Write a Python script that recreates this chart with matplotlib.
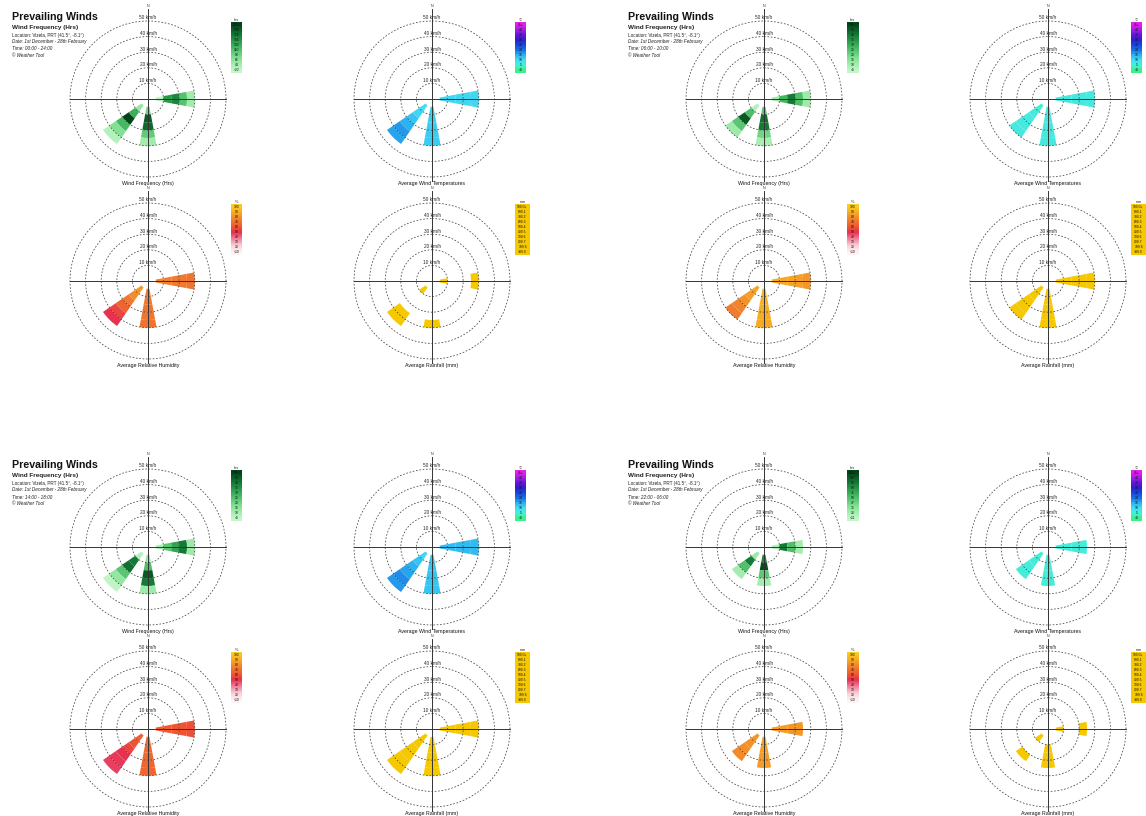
import numpy as np
import matplotlib.pyplot as plt
from matplotlib.colors import LinearSegmentedColormap, Normalize

plt.rcParams['font.family'] = ['Liberation Sans', 'DejaVu Sans']

W, H = 1146, 816
fig = plt.figure(figsize=(W / 100, H / 100), dpi=100)

# ---------------------------------------------------------------- data
sector_dirs = [90, 180, 225]            # E, S, SW (compass degrees)
speed_edges = [5, 10, 15, 20, 25, 30, 35]
ring_speeds = [10, 20, 30, 40, 50]
time_labels = ["00:00 - 24:00", "06:00 - 10:00", "14:00 - 18:00", "22:00 - 06:00"]

nan = np.nan
# rows: E, S, SW ; columns: speed bins 5-10 ... 30-35 km/h
freq_0024 = [[30, 150, 165, 110, 50, nan], [90, 200, 190, 100, 50, nan], [60, 130, 220, 120, 75, 35]]
freq_0610 = [[12, 28, 40, 26, 12, nan], [24, 42, 40, 20, 10, nan], [8, 26, 46, 24, 12, nan]]
freq_1418 = [[10, 24, 32, 40, 12, nan], [14, 26, 46, 40, 12, nan], [8, 40, 42, 24, 14, 6]]
freq_2206 = [[20, 95, 60, 25, nan, nan], [90, 115, 55, 25, nan, nan], [30, 95, 60, 25, nan, nan]]

temp_0024 = [[11, 11, 11, 11, 11, nan], [12, 12, 12, 12, 12, nan], [10, 11, 13, 15, 17, 16]]
temp_0610 = [[7, 7, 7, 7, 7, nan], [7, 7, 7, 7, 7, nan], [5, 7, 7, 7, 7, nan]]
temp_1418 = [[14, 14, 14, 14, 14, nan], [13, 13, 13, 13, 13, nan], [11, 13, 15, 16, 18, 17]]
temp_2206 = [[6, 6, 6, 6, nan, nan], [6, 6, 6, 6, nan, nan], [6, 6, 6, 6, nan, nan]]

humid_0024 = [[75, 74, 73, 72, 71, nan], [72, 72, 71, 71, 70, nan], [82, 78, 72, 64, 55, 50]]
humid_0610 = [[88, 87, 86, 84, 82, nan], [91, 90, 90, 89, 88, nan], [86, 84, 80, 76, 73, nan]]
humid_1418 = [[62, 61, 60, 59, 58, nan], [67, 66, 66, 65, 65, nan], [63, 59, 55, 50, 48, 47]]
humid_2206 = [[84, 83, 82, 82, nan, nan], [85, 84, 83, 83, nan, nan], [82, 80, 79, 78, nan, nan]]

rain_0024 = [[120, nan, nan, nan, 150, nan], [nan, nan, nan, nan, 180, nan], [90, nan, nan, nan, 160, 140]]
rain_0610 = [[60, 80, 90, 70, 50, nan], [70, 90, 90, 60, 40, nan], [40, 80, 90, 60, 40, nan]]
rain_1418 = [[60, 80, 90, 70, 50, nan], [70, 90, 90, 60, 40, nan], [40, 80, 90, 60, 40, 30]]
rain_2206 = [[60, nan, nan, 80, nan, nan], [nan, 90, 90, 90, nan, nan], [50, nan, nan, 70, nan, nan]]

freq_ticks = [["<22", "44", "66", "88", "110", "132", "154", "176", "198", "220+"],
              ["<5", "10", "15", "20", "25", "30", "35", "40", "45", "50+"],
              ["<5", "10", "15", "20", "25", "30", "35", "40", "45", "50+"],
              ["<11", "23", "35", "47", "59", "71", "83", "95", "107", "119+"]]
temp_ticks = ["<0", "5", "10", "15", "20", "25", "30", "35", "40", "45+"]
humid_ticks = ["<10", "20", "30", "40", "50", "60", "70", "80", "90", "100"]
rain_ticks = ["<99.9", "199.8", "299.7", "399.6", "499.5", "599.4", "699.3", "799.2", "899.1", "999.0+"]

# ---------------------------------------------------------------- styles
freq_cmap = LinearSegmentedColormap.from_list(
    "freq", ["#c4f7c8", "#86e496", "#46b862", "#17813a", "#02441a"])
temp_cmap = LinearSegmentedColormap.from_list(
    "temp", [(0.0, "#3cf08c"), (0.11, "#44f0d4"), (0.22, "#44e0f2"),
             (0.33, "#2cb4f0"), (0.44, "#1874e6"), (0.56, "#1a46d6"),
             (0.67, "#3020c8"), (0.78, "#6418d8"), (0.89, "#a41ee2"), (1.0, "#e020e8")])
humid_cmap = LinearSegmentedColormap.from_list(
    "humid", [(0.0, "#fff4f4"), (0.15, "#f8d0d8"), (0.3, "#f08098"),
              (0.44, "#e83050"), (0.56, "#f05830"), (0.69, "#f07830"),
              (0.83, "#f6a024"), (1.0, "#f8cc20")])
rain_cmap = LinearSegmentedColormap.from_list("rain", ["#f6c800", "#f6c800"])

RMAX = 60.0
PX_PER_KMH = 1.56
HALF = RMAX * PX_PER_KMH


def fx(x):
    return x / W


def fy(y):
    return 1 - y / H


def rose(cx, cy, values, cmap, vmin, vmax, title, unit, ticks, cbar_w=11):
    ax = fig.add_axes([fx(cx - HALF), fy(cy + HALF), 2 * HALF / W, 2 * HALF / H],
                      projection="polar")
    ax.set_theta_zero_location("N")
    ax.set_theta_direction(-1)
    ax.set_ylim(0, RMAX)
    ax.set_axis_off()

    norm = Normalize(vmin, vmax)
    width = np.deg2rad(21)
    vals = np.array(values, dtype=float)
    for i, d in enumerate(sector_dirs):
        for j in range(len(speed_edges) - 1):
            v = vals[i, j]
            if np.isnan(v):
                continue
            lo, hi = speed_edges[j], speed_edges[j + 1]
            ax.bar(np.deg2rad(d), hi - lo, width=width, bottom=lo,
                   color=cmap(norm(v)), linewidth=0, zorder=2)

    th = np.linspace(0, 2 * np.pi, 361)
    for r in ring_speeds:
        ax.plot(th, np.full_like(th, r), color="#444444", lw=0.55,
                ls=(0, (2.2, 2.2)), zorder=3)
        ax.text(0, r + 2, f"{r} km/h", fontsize=3.4, ha="center", va="center",
                color="#222222", zorder=5)
    ax.plot([np.pi / 2, np.pi / 2], [0, 50], color="#333333", lw=0.7, zorder=4)
    ax.plot([3 * np.pi / 2, 3 * np.pi / 2], [0, 50], color="#333333", lw=0.7, zorder=4)
    ax.plot([0, 0], [0, 58], color="#333333", lw=0.7, zorder=4)
    ax.plot([np.pi, np.pi], [0, 52.5], color="#333333", lw=0.7, zorder=4)
    ax.text(0, 58.5, "N", fontsize=2.6, ha="center", va="bottom", color="#333333")
    fig.text(fx(cx), fy(cy + 84), title, fontsize=3.75, ha="center", va="center",
             color="#111111")

    # colour key
    n = len(ticks)
    cax = fig.add_axes([fx(cx + 83), fy(cy - 26), cbar_w / W, 51 / H])
    levels = np.linspace(vmin, vmax, n)
    cax.imshow(levels[::-1].reshape(-1, 1), cmap=cmap, norm=norm, aspect="auto",
               extent=(0, 1, 0, n), interpolation="bilinear")
    for k, t in enumerate(ticks):
        cax.text(0.5, k + 0.5, t, fontsize=2.4, ha="center", va="center",
                 color="#111111")
    cax.set_xlim(0, 1)
    cax.set_ylim(0, n)
    cax.set_axis_off()
    fig.text(fx(cx + 83 + cbar_w / 2), fy(cy - 79), unit, fontsize=2.8,
             ha="center", va="center", color="#222222")
    return ax


groups = [
    (0, 0, freq_0024, temp_0024, humid_0024, rain_0024),
    (616, 0, freq_0610, temp_0610, humid_0610, rain_0610),
    (0, 448, freq_1418, temp_1418, humid_1418, rain_1418),
    (616, 448, freq_2206, temp_2206, humid_2206, rain_2206),
]

for g, (ox, oy, fr, tp, hu, rn) in enumerate(groups):
    fmax = float(freq_ticks[g][-1].rstrip("+"))
    fmin = float(freq_ticks[g][0].lstrip("<"))
    rose(ox + 148, oy + 99, fr, freq_cmap, fmin, fmax,
         "Wind Frequency (Hrs)", "hrs", freq_ticks[g])
    rose(ox + 432, oy + 99, tp, temp_cmap, 0, 45,
         "Average Wind Temperatures", "°C", temp_ticks)
    rose(ox + 148, oy + 281, hu, humid_cmap, 10, 100,
         "Average Relative Humidity", "%", humid_ticks)
    rose(ox + 432, oy + 281, rn, rain_cmap, 99.9, 999.0,
         "Average Rainfall (mm)", "mm", rain_ticks, cbar_w=15)

    fig.text(fx(ox + 12), fy(oy + 20.5), "Prevailing Winds", fontsize=7.7,
             fontweight="bold", ha="left", va="baseline", color="#111111")
    fig.text(fx(ox + 12), fy(oy + 29.5), "Wind Frequency (Hrs)", fontsize=4.6,
             fontweight="bold", ha="left", va="baseline", color="#222222")
    fig.text(fx(ox + 12), fy(oy + 36.5), "Location: Vizela, PRT (41.5°, -8.1°)",
             fontsize=3.3, ha="left", va="baseline", color="#222222")
    fig.text(fx(ox + 12), fy(oy + 43.5), "Date: 1st December - 28th February",
             fontsize=3.3, style="italic", ha="left", va="baseline", color="#222222")
    fig.text(fx(ox + 12), fy(oy + 50.5), f"Time: {time_labels[g]}",
             fontsize=3.3, style="italic", ha="left", va="baseline", color="#222222")
    fig.text(fx(ox + 12), fy(oy + 57), "© Weather Tool",
             fontsize=3.3, style="italic", ha="left", va="baseline", color="#222222")

fig.savefig("out.png", dpi=100, facecolor="white")
